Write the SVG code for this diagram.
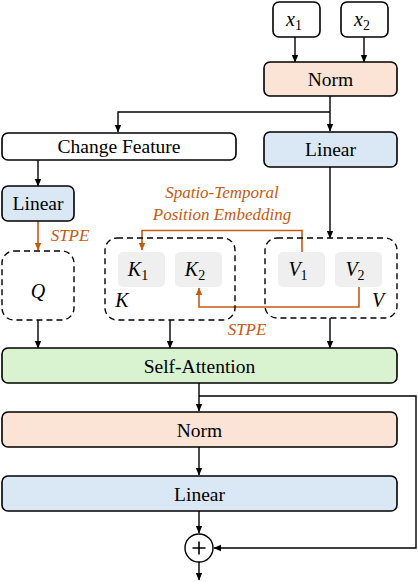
<svg xmlns="http://www.w3.org/2000/svg" width="418" height="582" viewBox="0 0 418 582">
<defs>
<marker id="ah" markerWidth="8" markerHeight="8" refX="7" refY="4" orient="auto" markerUnits="userSpaceOnUse"><path d="M0,0.8 L7.5,4 L0,7.2 Z" fill="#000"/></marker>
<marker id="aho" markerWidth="8" markerHeight="8" refX="7" refY="4" orient="auto" markerUnits="userSpaceOnUse"><path d="M0,0.8 L7.5,4 L0,7.2 Z" fill="#c55a11"/></marker>
</defs>
<g id="connectors" fill="none" stroke="#000" stroke-width="1.4">
<path d="M295,37 V62" marker-end="url(#ah)"/>
<path d="M364,37 V62" marker-end="url(#ah)"/>
<path d="M330,96 V131" marker-end="url(#ah)"/>
<path d="M330,112 H118 V132" marker-end="url(#ah)"/>
<path d="M38,160 V186" marker-end="url(#ah)"/>
<path d="M330,167 V238" marker-end="url(#ah)"/>
<path stroke="#c55a11" stroke-width="1.6" d="M38,221 V250" marker-end="url(#aho)"/>
<path stroke="#c55a11" stroke-width="1.6" d="M302,252 V230.5 H142 V250" marker-end="url(#aho)"/>
<path stroke="#c55a11" stroke-width="1.6" d="M359,287 V307 H199 V288" marker-end="url(#aho)"/>
<path d="M38,320 V348" marker-end="url(#ah)"/>
<path d="M170,320 V348" marker-end="url(#ah)"/>
<path d="M330,318 V348" marker-end="url(#ah)"/>
<path d="M199,383 V411" marker-end="url(#ah)"/>
<path d="M199,396 H416 V548 H214" marker-end="url(#ah)"/>
<path d="M199,447 V475" marker-end="url(#ah)"/>
<path d="M199,511 V533" marker-end="url(#ah)"/>
<path d="M199,562 V580" marker-end="url(#ah)"/>
</g>
<g id="x1"><rect x="273" y="2" width="47" height="35" rx="6" fill="#fff" stroke="#000" stroke-width="1.6"/><text font-family="Liberation Serif" font-style="italic" font-size="20" text-anchor="middle" x="294" y="26">x<tspan font-style="normal" font-size="14" dy="4">1</tspan></text></g>
<g id="x2"><rect x="341" y="2" width="47" height="35" rx="6" fill="#fff" stroke="#000" stroke-width="1.6"/><text font-family="Liberation Serif" font-style="italic" font-size="20" text-anchor="middle" x="362" y="26">x<tspan font-style="normal" font-size="14" dy="4">2</tspan></text></g>
<g id="norm1"><rect x="264" y="62" width="133" height="34" rx="6" fill="#fbe3d6" stroke="#000" stroke-width="1.6"/><text font-family="Liberation Serif" font-size="19.5" text-anchor="middle" x="330.5" y="86">Norm</text></g>
<g id="change-feature"><rect x="2" y="133" width="234" height="27" rx="6" fill="#fff" stroke="#000" stroke-width="1.6"/><text font-family="Liberation Serif" font-size="19.5" text-anchor="middle" x="119" y="153">Change Feature</text></g>
<g id="linear-right"><rect x="264" y="132" width="133" height="35" rx="6" fill="#dae8f5" stroke="#000" stroke-width="1.6"/><text font-family="Liberation Serif" font-size="19.5" text-anchor="middle" x="330.5" y="156">Linear</text></g>
<g id="linear-left"><rect x="2" y="186" width="72" height="35" rx="6" fill="#dae8f5" stroke="#000" stroke-width="1.6"/><text font-family="Liberation Serif" font-size="19.5" text-anchor="middle" x="38" y="210">Linear</text></g>
<g id="stpe-label-q"><text font-family="Liberation Serif" font-style="italic" font-size="17" fill="#c55a11" text-anchor="middle" x="70" y="241">STPE</text></g>
<g id="spe-label" font-family="Liberation Serif" font-style="italic" font-size="17" fill="#c55a11" text-anchor="middle"><text x="222" y="198">Spatio-Temporal</text><text x="222" y="220">Position Embedding</text></g>
<g id="Q"><rect x="2" y="251" width="72" height="69" rx="12" fill="none" stroke="#000" stroke-width="1.4" stroke-dasharray="6,4"/><text font-family="Liberation Serif" font-style="italic" font-size="20" text-anchor="middle" x="38" y="298">Q</text></g>
<g id="K" font-family="Liberation Serif" font-style="italic" font-size="20" text-anchor="middle"><rect x="105" y="238" width="130" height="82" rx="12" fill="none" stroke="#000" stroke-width="1.4" stroke-dasharray="6,4"/>
<rect x="118" y="252" width="47" height="35" rx="5" fill="#efefef"/><text x="138" y="276">K<tspan font-style="normal" font-size="14" dy="4">1</tspan></text>
<rect x="175" y="252" width="47" height="35" rx="5" fill="#efefef"/><text x="195" y="276">K<tspan font-style="normal" font-size="14" dy="4">2</tspan></text>
<text x="122" y="307">K</text></g>
<g id="V" font-family="Liberation Serif" font-style="italic" font-size="20" text-anchor="middle"><rect x="265" y="238" width="132" height="80" rx="12" fill="none" stroke="#000" stroke-width="1.4" stroke-dasharray="6,4"/>
<rect x="278" y="252" width="47" height="35" rx="5" fill="#efefef"/><text x="298" y="276">V<tspan font-style="normal" font-size="14" dy="4">1</tspan></text>
<rect x="335" y="252" width="47" height="35" rx="5" fill="#efefef"/><text x="355" y="276">V<tspan font-style="normal" font-size="14" dy="4">2</tspan></text>
<text x="378" y="307">V</text></g>
<g id="stpe-label-kv"><text font-family="Liberation Serif" font-style="italic" font-size="17" fill="#c55a11" text-anchor="middle" x="247" y="335">STPE</text></g>
<g id="self-attention"><rect x="2" y="348" width="395" height="35" rx="6" fill="#d9f2d0" stroke="#000" stroke-width="1.6"/><text font-family="Liberation Serif" font-size="19.5" text-anchor="middle" x="199.5" y="373">Self-Attention</text></g>
<g id="norm2"><rect x="2" y="412" width="395" height="35" rx="6" fill="#fbe3d6" stroke="#000" stroke-width="1.6"/><text font-family="Liberation Serif" font-size="19.5" text-anchor="middle" x="199.5" y="437">Norm</text></g>
<g id="linear-bottom"><rect x="2" y="476" width="395" height="35" rx="6" fill="#dae8f5" stroke="#000" stroke-width="1.6"/><text font-family="Liberation Serif" font-size="19.5" text-anchor="middle" x="199.5" y="501">Linear</text></g>
<g id="add"><circle cx="199" cy="548" r="14" fill="#fff" stroke="#000" stroke-width="1.4"/><path d="M192.5,548 H205.5 M199,541.5 V554.5" stroke="#000" stroke-width="1.6"/></g>
</svg>
